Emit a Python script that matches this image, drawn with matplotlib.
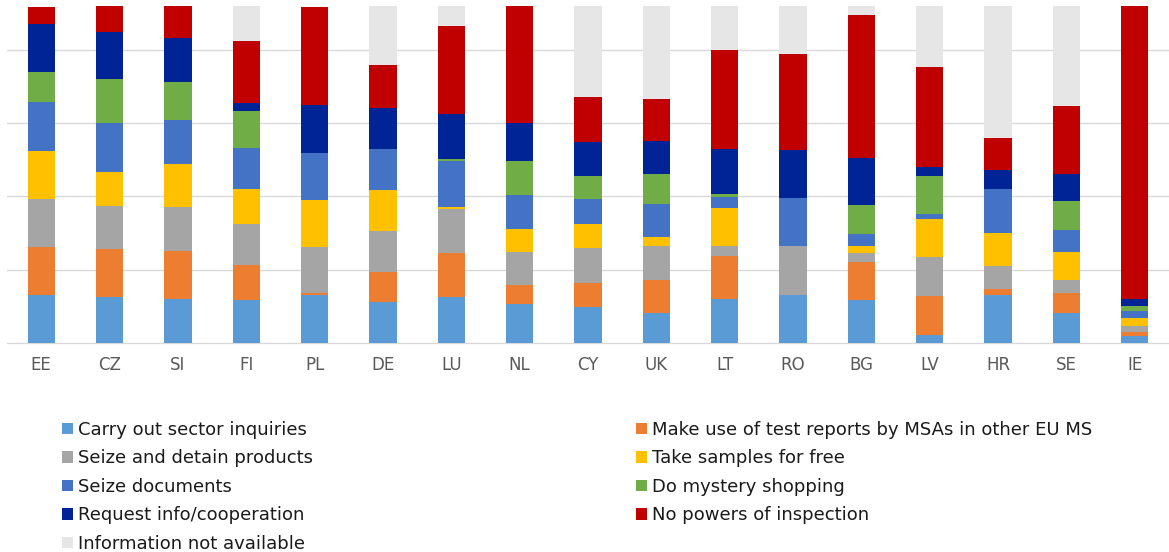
import matplotlib
matplotlib.use("Agg")
import matplotlib.pyplot as plt
import numpy as np

countries = ["EE", "CZ", "SI", "FI", "PL", "DE", "LU", "NL", "CY", "UK",
             "LT", "RO", "BG", "LV", "HR", "SE", "IE"]

# shares (% of bar height)
sector_inquiries = [14.3, 13.5, 13.0, 12.6, 14.3, 12.2, 13.5, 11.4, 10.5, 8.7, 13.0, 14.3, 12.6, 2.2, 14.3, 8.7, 2.0]
test_reports     = [14.1, 14.2, 14.3, 10.4, 0.3, 8.7, 13.0, 5.6, 7.3, 10.0, 12.7, 0.0, 11.2, 11.8, 1.7, 5.9, 1.3]
seize_detain     = [14.3, 13.0, 13.0, 12.2, 13.9, 12.1, 13.2, 9.8, 10.4, 9.9, 3.0, 14.3, 2.7, 11.3, 6.8, 4.1, 1.7]
take_samples     = [14.3, 10.0, 12.7, 10.5, 13.9, 12.2, 0.7, 6.9, 6.9, 2.7, 11.4, 0.0, 2.2, 11.3, 9.7, 8.2, 2.3]
seize_documents  = [14.3, 14.4, 13.0, 12.1, 13.9, 12.3, 13.5, 10.0, 7.4, 10.0, 3.0, 14.2, 3.5, 1.7, 13.1, 6.4, 2.1]
mystery_shopping = [9.1, 13.1, 11.4, 10.9, 0.0, 0.0, 0.5, 10.1, 7.0, 8.7, 0.9, 0.0, 8.7, 11.3, 0.0, 8.7, 1.4]
request_info     = [14.3, 14.1, 13.0, 2.5, 14.2, 12.0, 13.5, 11.3, 10.2, 9.8, 13.5, 14.3, 13.9, 2.6, 5.5, 8.2, 2.1]
no_powers        = [5.0, 7.7, 9.8, 18.3, 29.0, 13.0, 26.0, 34.9, 13.1, 12.6, 29.4, 28.6, 42.4, 29.5, 9.6, 20.0, 87.1]
not_available    = [0.0, 0.0, 0.0, 10.7, 0.0, 17.7, 6.3, 0.0, 27.2, 27.7, 13.4, 14.1, 2.9, 18.5, 39.3, 29.8, 0.0]

series_labels = ["Carry out sector inquiries", "Make use of test reports by MSAs in other EU MS",
                 "Seize and detain products", "Take samples for free",
                 "Seize documents", "Do mystery shopping",
                 "Request info/cooperation", "No powers of inspection",
                 "Information not available"]
series_values = [sector_inquiries, test_reports, seize_detain, take_samples,
                 seize_documents, mystery_shopping, request_info, no_powers, not_available]
colors = ["#5B9BD5", "#ED7D31", "#A5A5A5", "#FFC000", "#4472C4",
          "#70AD47", "#002395", "#C00000", "#E6E6E6"]

plt.rcParams['font.family'] = ['DejaVu Sans']
fig = plt.figure(figsize=(11.69, 5.52), dpi=100)
ax = fig.add_axes([7/1169, (552-342.7)/552, 1 - 7/1169, (342.7-5.7)/552])

x = np.arange(len(countries))
bottom = np.zeros(len(countries))
handles = []
for lab, vals, col in zip(series_labels, series_values, colors):
    v = np.array(vals, dtype=float)
    h = ax.bar(x, v, width=0.4, bottom=bottom, color=col, label=lab,
               edgecolor='none', zorder=3)
    handles.append(h)
    bottom += v

ax.set_xlim(-0.5, len(countries) - 0.5)
ax.set_ylim(0, 100)
ax.set_yticks([21.7, 43.4, 65.1, 86.8])
ax.yaxis.grid(True, color="#D9D9D9", linewidth=1.0, zorder=0)
ax.tick_params(axis='y', left=False, labelleft=False)
ax.tick_params(axis='x', bottom=False, labelsize=12, labelcolor="#595959", pad=6)
ax.set_xticks(x)
ax.set_xticklabels(countries)
for s in ["top", "right", "left"]:
    ax.spines[s].set_visible(False)
ax.spines["bottom"].set_color("#D9D9D9")
ax.spines["bottom"].set_linewidth(1.0)

leg_kw = dict(frameon=False, fontsize=13, handlelength=0.6, handleheight=0.6,
              handletextpad=0.3, labelspacing=0.58, borderaxespad=0, borderpad=0,
              loc='upper left', labelcolor="#1a1a1a")
left_idx = [0, 2, 4, 6, 8]
right_idx = [1, 3, 5, 7]
fig.legend([handles[i] for i in left_idx], [series_labels[i] for i in left_idx],
           bbox_to_anchor=(62/1169, 1 - 421/552), **leg_kw)
fig.legend([handles[i] for i in right_idx], [series_labels[i] for i in right_idx],
           bbox_to_anchor=(636/1169, 1 - 421/552), **leg_kw)

fig.savefig("out.png", dpi=100)
